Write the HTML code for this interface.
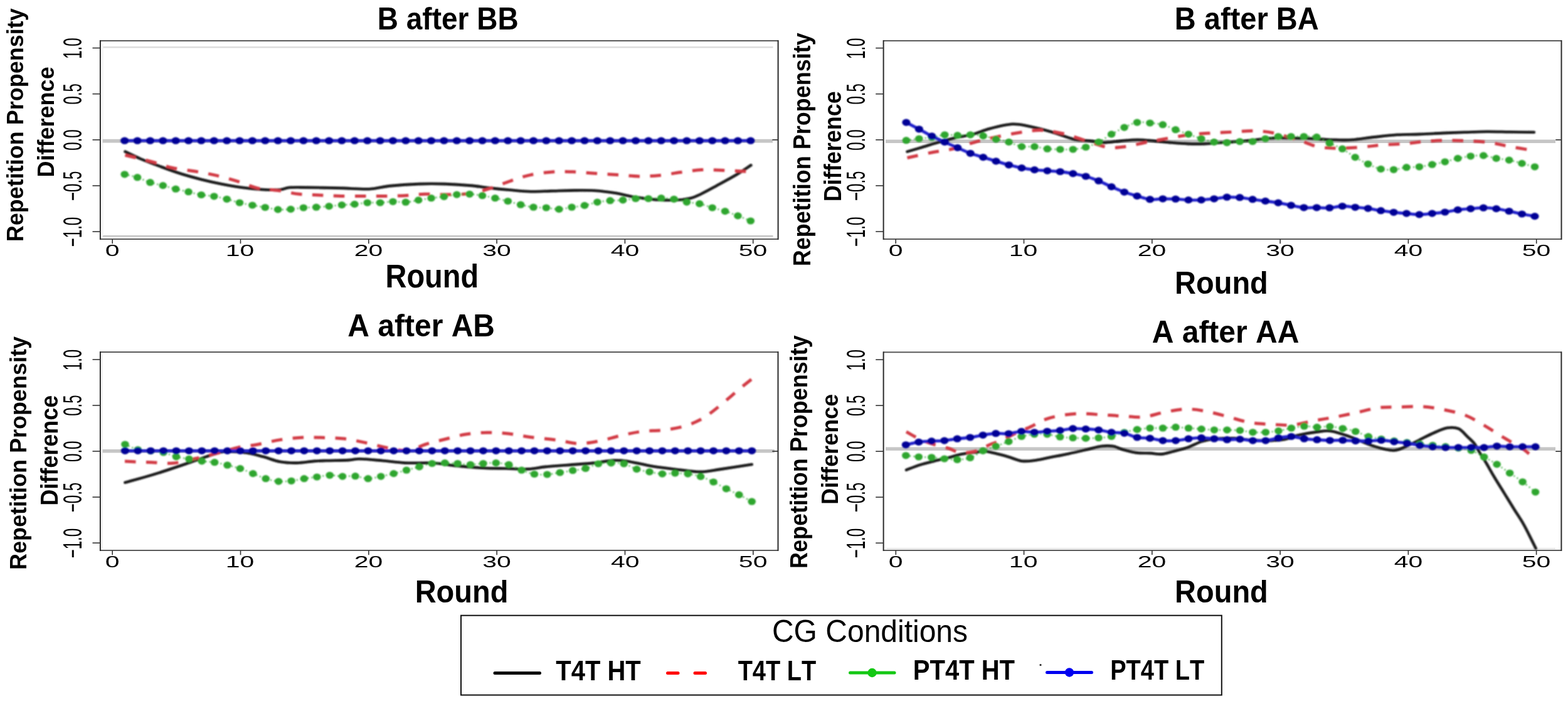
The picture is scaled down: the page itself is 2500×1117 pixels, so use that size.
<!DOCTYPE html>
<html><head><meta charset="utf-8"><title>Repetition Propensity Difference by Round</title>
<style>html,body{margin:0;padding:0;background:#fff;}svg{display:block;}</style>
</head><body>
<svg width="2500" height="1117" viewBox="0 0 2500 1117">
<rect width="2500" height="1117" fill="#fff"/>
<defs><filter id="soft" x="-2%" y="-2%" width="104%" height="104%"><feGaussianBlur stdDeviation="0.85"/></filter></defs>
<g id="TL">
<line x1="163.5" y1="75.2" x2="1232.5" y2="75.2" stroke="#dcdcdc" stroke-width="2.4"/>
<line x1="163.5" y1="376.3" x2="1232.5" y2="376.3" stroke="#c4c4c4" stroke-width="2.4"/>
<line x1="163.8" y1="70" x2="163.8" y2="376" stroke="#f0f0f0" stroke-width="1.5"/>
<line x1="163.5" y1="224.6" x2="1232" y2="224.6" stroke="#c6c6c6" stroke-width="5.6"/>
<g filter="url(#soft)">
<path d="M199.5,241.6C203.75,243.58 215.47,249.48 225,253.5C234.53,257.52 246.03,261.78 256.7,265.7C267.37,269.62 278.28,273.63 289,277C299.72,280.37 310.27,283.2 321,285.9C331.73,288.6 342.63,291.05 353.4,293.2C364.17,295.35 374.85,297.33 385.6,298.8C396.35,300.27 407.68,301.43 417.9,302C428.12,302.57 439.88,302.7 446.9,302.2C453.92,301.7 454.48,299.6 460,299C465.52,298.4 466.67,298.5 480,298.6C493.33,298.7 521.95,299.17 540,299.6C558.05,300.03 574.87,301.73 588.3,301.2C601.73,300.67 607.17,297.75 620.6,296.4C634.03,295.05 654.13,293.65 668.9,293.1C683.67,292.55 695.77,292.68 709.2,293.1C722.63,293.52 737.42,294.52 749.5,295.6C761.58,296.68 770.95,298.4 781.7,299.6C792.45,300.8 803.25,301.87 814,302.8C824.75,303.73 835.47,304.93 846.2,305.2C856.93,305.47 866.75,304.7 878.4,304.4C890.05,304.1 904.45,303.5 916.1,303.4C927.75,303.3 937.55,303.1 948.3,303.8C959.05,304.5 969.85,305.88 980.6,307.6C991.35,309.32 1002.07,312.35 1012.8,314.1C1023.53,315.85 1034.27,317.3 1045,318.1C1055.73,318.9 1067.8,319.3 1077.2,318.9C1086.6,318.5 1094.68,317.32 1101.4,315.7C1108.12,314.08 1110.78,312.42 1117.5,309.2C1124.22,305.98 1132.3,301.5 1141.7,296.4C1151.1,291.3 1164.63,284.12 1173.9,278.6C1183.17,273.08 1193.4,265.85 1197.3,263.3" fill="none" stroke="#1a1a1a" stroke-width="4.6" stroke-linejoin="round" stroke-linecap="round"/>
<path d="M199.5,247.2C206.58,248.95 229.42,254.33 242,257.7C254.58,261.07 263.5,264.85 275,267.4C286.5,269.95 299.5,271 311,273C322.5,275 333,276.85 344,279.4C355,281.95 366,284.93 377,288.3C388,291.67 399,297.05 410,299.6C421,302.15 431.83,301.98 443,303.6C454.17,305.22 465.83,308.08 477,309.3C488.17,310.52 498.83,310.37 510,310.9C521.17,311.43 532.33,312.23 544,312.5C555.67,312.77 568.58,312.5 580,312.5C591.42,312.5 601.7,312.63 612.5,312.5C623.3,312.37 634.05,312.23 644.8,311.7C655.55,311.17 666.3,309.58 677,309.3C687.7,309.02 696.92,310.13 709,310C721.08,309.87 737.92,309.97 749.5,308.5C761.08,307.03 767.75,304.57 778.5,301.2C789.25,297.83 802.72,292.07 814,288.3C825.28,284.53 834.65,281.02 846.2,278.6C857.75,276.18 872.02,274.6 883.3,273.8C894.58,273 903.07,273.4 913.9,273.8C924.73,274.2 936.65,275.4 948.3,276.2C959.95,277 971.98,277.8 983.8,278.6C995.62,279.4 1007.92,280.87 1019.2,281C1030.48,281.13 1040.48,280.47 1051.5,279.4C1062.52,278.33 1074.03,276.07 1085.3,274.6C1096.57,273.13 1107.55,271.13 1119.1,270.6C1130.65,270.07 1141.7,270.87 1154.6,271.4C1167.5,271.93 1189.52,273.4 1196.5,273.8" fill="none" stroke="#d23a44" stroke-width="5" stroke-dasharray="17.5 16.5" stroke-linejoin="round"/>
<path d="M198.7,277.8C202.09,278.62 212.28,280.55 219.07,282.7C225.86,284.85 232.65,288.55 239.44,290.7C246.23,292.85 253.02,293.85 259.81,295.6C266.6,297.35 273.39,299.52 280.18,301.2C286.97,302.88 293.76,304.15 300.55,305.7C307.34,307.25 314.13,309.32 320.92,310.5C327.71,311.68 334.5,311.67 341.29,312.8C348.08,313.93 354.87,315.6 361.66,317.3C368.44,319 375.23,321.38 382.02,323C388.81,324.62 395.6,325.75 402.39,327C409.18,328.25 415.97,329.35 422.76,330.5C429.55,331.65 436.34,333.42 443.13,333.9C449.92,334.38 456.71,333.88 463.5,333.4C470.29,332.92 477.08,331.53 483.87,331C490.66,330.47 497.45,330.6 504.24,330.2C511.03,329.8 517.82,329.2 524.61,328.6C531.4,328 538.19,327.13 544.98,326.6C551.77,326.07 558.56,326 565.35,325.4C572.14,324.8 578.93,323.4 585.72,323C592.51,322.6 599.3,323.28 606.09,323C612.88,322.72 619.67,321.43 626.46,321.3C633.25,321.17 640.04,322.6 646.83,322.2C653.62,321.8 660.41,319.98 667.2,318.9C673.99,317.82 680.78,316.63 687.57,315.7C694.36,314.77 701.14,314.23 707.93,313.3C714.72,312.37 721.51,310.77 728.3,310.1C735.09,309.43 741.88,309.03 748.67,309.3C755.46,309.57 762.25,310.63 769.04,311.7C775.83,312.77 782.62,314.23 789.41,315.7C796.2,317.17 802.99,318.75 809.78,320.5C816.57,322.25 823.36,324.58 830.15,326.2C836.94,327.82 843.73,329.4 850.52,330.2C857.31,331 864.1,330.47 870.89,331C877.68,331.53 884.47,333.53 891.26,333.4C898.05,333.27 904.84,331.2 911.63,330.2C918.42,329.2 925.21,328.75 932,327.4C938.79,326.05 945.58,323.38 952.37,322.1C959.16,320.82 965.95,320.23 972.74,319.7C979.53,319.17 986.32,319.43 993.11,318.9C999.9,318.37 1006.69,316.9 1013.48,316.5C1020.27,316.1 1027.06,316.63 1033.84,316.5C1040.63,316.37 1047.42,315.57 1054.21,315.7C1061,315.83 1067.79,316.23 1074.58,317.3C1081.37,318.37 1088.16,320.88 1094.95,322.1C1101.74,323.32 1108.53,323.12 1115.32,324.6C1122.11,326.08 1128.9,329 1135.69,331C1142.48,333 1149.27,334.45 1156.06,336.6C1162.85,338.75 1169.64,341.33 1176.43,343.9C1183.22,346.47 1193.41,350.65 1196.8,352" fill="none" stroke="#2ea62f" stroke-width="2.6" stroke-dasharray="2 4" opacity="0.8"/>
<g fill="#2ea62f"><ellipse cx="198.7" cy="277.8" rx="6.3" ry="5.6"/><ellipse cx="219.07" cy="282.7" rx="6.3" ry="5.6"/><ellipse cx="239.44" cy="290.7" rx="6.3" ry="5.6"/><ellipse cx="259.81" cy="295.6" rx="6.3" ry="5.6"/><ellipse cx="280.18" cy="301.2" rx="6.3" ry="5.6"/><ellipse cx="300.55" cy="305.7" rx="6.3" ry="5.6"/><ellipse cx="320.92" cy="310.5" rx="6.3" ry="5.6"/><ellipse cx="341.29" cy="312.8" rx="6.3" ry="5.6"/><ellipse cx="361.66" cy="317.3" rx="6.3" ry="5.6"/><ellipse cx="382.02" cy="323" rx="6.3" ry="5.6"/><ellipse cx="402.39" cy="327" rx="6.3" ry="5.6"/><ellipse cx="422.76" cy="330.5" rx="6.3" ry="5.6"/><ellipse cx="443.13" cy="333.9" rx="6.3" ry="5.6"/><ellipse cx="463.5" cy="333.4" rx="6.3" ry="5.6"/><ellipse cx="483.87" cy="331" rx="6.3" ry="5.6"/><ellipse cx="504.24" cy="330.2" rx="6.3" ry="5.6"/><ellipse cx="524.61" cy="328.6" rx="6.3" ry="5.6"/><ellipse cx="544.98" cy="326.6" rx="6.3" ry="5.6"/><ellipse cx="565.35" cy="325.4" rx="6.3" ry="5.6"/><ellipse cx="585.72" cy="323" rx="6.3" ry="5.6"/><ellipse cx="606.09" cy="323" rx="6.3" ry="5.6"/><ellipse cx="626.46" cy="321.3" rx="6.3" ry="5.6"/><ellipse cx="646.83" cy="322.2" rx="6.3" ry="5.6"/><ellipse cx="667.2" cy="318.9" rx="6.3" ry="5.6"/><ellipse cx="687.57" cy="315.7" rx="6.3" ry="5.6"/><ellipse cx="707.93" cy="313.3" rx="6.3" ry="5.6"/><ellipse cx="728.3" cy="310.1" rx="6.3" ry="5.6"/><ellipse cx="748.67" cy="309.3" rx="6.3" ry="5.6"/><ellipse cx="769.04" cy="311.7" rx="6.3" ry="5.6"/><ellipse cx="789.41" cy="315.7" rx="6.3" ry="5.6"/><ellipse cx="809.78" cy="320.5" rx="6.3" ry="5.6"/><ellipse cx="830.15" cy="326.2" rx="6.3" ry="5.6"/><ellipse cx="850.52" cy="330.2" rx="6.3" ry="5.6"/><ellipse cx="870.89" cy="331" rx="6.3" ry="5.6"/><ellipse cx="891.26" cy="333.4" rx="6.3" ry="5.6"/><ellipse cx="911.63" cy="330.2" rx="6.3" ry="5.6"/><ellipse cx="932" cy="327.4" rx="6.3" ry="5.6"/><ellipse cx="952.37" cy="322.1" rx="6.3" ry="5.6"/><ellipse cx="972.74" cy="319.7" rx="6.3" ry="5.6"/><ellipse cx="993.11" cy="318.9" rx="6.3" ry="5.6"/><ellipse cx="1013.48" cy="316.5" rx="6.3" ry="5.6"/><ellipse cx="1033.84" cy="316.5" rx="6.3" ry="5.6"/><ellipse cx="1054.21" cy="315.7" rx="6.3" ry="5.6"/><ellipse cx="1074.58" cy="317.3" rx="6.3" ry="5.6"/><ellipse cx="1094.95" cy="322.1" rx="6.3" ry="5.6"/><ellipse cx="1115.32" cy="324.6" rx="6.3" ry="5.6"/><ellipse cx="1135.69" cy="331" rx="6.3" ry="5.6"/><ellipse cx="1156.06" cy="336.6" rx="6.3" ry="5.6"/><ellipse cx="1176.43" cy="343.9" rx="6.3" ry="5.6"/><ellipse cx="1196.8" cy="352" rx="6.3" ry="5.6"/></g>
<path d="M198.7,224.2C202.09,224.2 212.28,224.2 219.07,224.2C225.86,224.2 232.65,224.2 239.44,224.2C246.23,224.2 253.02,224.2 259.81,224.2C266.6,224.2 273.39,224.2 280.18,224.2C286.97,224.2 293.76,224.2 300.55,224.2C307.34,224.2 314.13,224.2 320.92,224.2C327.71,224.2 334.5,224.2 341.29,224.2C348.08,224.2 354.87,224.2 361.66,224.2C368.44,224.2 375.23,224.2 382.02,224.2C388.81,224.2 395.6,224.2 402.39,224.2C409.18,224.2 415.97,224.2 422.76,224.2C429.55,224.2 436.34,224.2 443.13,224.2C449.92,224.2 456.71,224.2 463.5,224.2C470.29,224.2 477.08,224.2 483.87,224.2C490.66,224.2 497.45,224.2 504.24,224.2C511.03,224.2 517.82,224.2 524.61,224.2C531.4,224.2 538.19,224.2 544.98,224.2C551.77,224.2 558.56,224.2 565.35,224.2C572.14,224.2 578.93,224.2 585.72,224.2C592.51,224.2 599.3,224.2 606.09,224.2C612.88,224.2 619.67,224.2 626.46,224.2C633.25,224.2 640.04,224.2 646.83,224.2C653.62,224.2 660.41,224.2 667.2,224.2C673.99,224.2 680.78,224.2 687.57,224.2C694.36,224.2 701.14,224.2 707.93,224.2C714.72,224.2 721.51,224.2 728.3,224.2C735.09,224.2 741.88,224.2 748.67,224.2C755.46,224.2 762.25,224.2 769.04,224.2C775.83,224.2 782.62,224.2 789.41,224.2C796.2,224.2 802.99,224.2 809.78,224.2C816.57,224.2 823.36,224.2 830.15,224.2C836.94,224.2 843.73,224.2 850.52,224.2C857.31,224.2 864.1,224.2 870.89,224.2C877.68,224.2 884.47,224.2 891.26,224.2C898.05,224.2 904.84,224.2 911.63,224.2C918.42,224.2 925.21,224.2 932,224.2C938.79,224.2 945.58,224.2 952.37,224.2C959.16,224.2 965.95,224.2 972.74,224.2C979.53,224.2 986.32,224.2 993.11,224.2C999.9,224.2 1006.69,224.2 1013.48,224.2C1020.27,224.2 1027.06,224.2 1033.84,224.2C1040.63,224.2 1047.42,224.2 1054.21,224.2C1061,224.2 1067.79,224.2 1074.58,224.2C1081.37,224.2 1088.16,224.2 1094.95,224.2C1101.74,224.2 1108.53,224.2 1115.32,224.2C1122.11,224.2 1128.9,224.2 1135.69,224.2C1142.48,224.2 1149.27,224.2 1156.06,224.2C1162.85,224.2 1169.64,224.2 1176.43,224.2C1183.22,224.2 1193.41,224.2 1196.8,224.2" fill="none" stroke="#2020cc" stroke-width="4.8"/>
<g fill="#000096"><ellipse cx="198.7" cy="224.2" rx="6.6" ry="5.6"/><ellipse cx="219.07" cy="224.2" rx="6.6" ry="5.6"/><ellipse cx="239.44" cy="224.2" rx="6.6" ry="5.6"/><ellipse cx="259.81" cy="224.2" rx="6.6" ry="5.6"/><ellipse cx="280.18" cy="224.2" rx="6.6" ry="5.6"/><ellipse cx="300.55" cy="224.2" rx="6.6" ry="5.6"/><ellipse cx="320.92" cy="224.2" rx="6.6" ry="5.6"/><ellipse cx="341.29" cy="224.2" rx="6.6" ry="5.6"/><ellipse cx="361.66" cy="224.2" rx="6.6" ry="5.6"/><ellipse cx="382.02" cy="224.2" rx="6.6" ry="5.6"/><ellipse cx="402.39" cy="224.2" rx="6.6" ry="5.6"/><ellipse cx="422.76" cy="224.2" rx="6.6" ry="5.6"/><ellipse cx="443.13" cy="224.2" rx="6.6" ry="5.6"/><ellipse cx="463.5" cy="224.2" rx="6.6" ry="5.6"/><ellipse cx="483.87" cy="224.2" rx="6.6" ry="5.6"/><ellipse cx="504.24" cy="224.2" rx="6.6" ry="5.6"/><ellipse cx="524.61" cy="224.2" rx="6.6" ry="5.6"/><ellipse cx="544.98" cy="224.2" rx="6.6" ry="5.6"/><ellipse cx="565.35" cy="224.2" rx="6.6" ry="5.6"/><ellipse cx="585.72" cy="224.2" rx="6.6" ry="5.6"/><ellipse cx="606.09" cy="224.2" rx="6.6" ry="5.6"/><ellipse cx="626.46" cy="224.2" rx="6.6" ry="5.6"/><ellipse cx="646.83" cy="224.2" rx="6.6" ry="5.6"/><ellipse cx="667.2" cy="224.2" rx="6.6" ry="5.6"/><ellipse cx="687.57" cy="224.2" rx="6.6" ry="5.6"/><ellipse cx="707.93" cy="224.2" rx="6.6" ry="5.6"/><ellipse cx="728.3" cy="224.2" rx="6.6" ry="5.6"/><ellipse cx="748.67" cy="224.2" rx="6.6" ry="5.6"/><ellipse cx="769.04" cy="224.2" rx="6.6" ry="5.6"/><ellipse cx="789.41" cy="224.2" rx="6.6" ry="5.6"/><ellipse cx="809.78" cy="224.2" rx="6.6" ry="5.6"/><ellipse cx="830.15" cy="224.2" rx="6.6" ry="5.6"/><ellipse cx="850.52" cy="224.2" rx="6.6" ry="5.6"/><ellipse cx="870.89" cy="224.2" rx="6.6" ry="5.6"/><ellipse cx="891.26" cy="224.2" rx="6.6" ry="5.6"/><ellipse cx="911.63" cy="224.2" rx="6.6" ry="5.6"/><ellipse cx="932" cy="224.2" rx="6.6" ry="5.6"/><ellipse cx="952.37" cy="224.2" rx="6.6" ry="5.6"/><ellipse cx="972.74" cy="224.2" rx="6.6" ry="5.6"/><ellipse cx="993.11" cy="224.2" rx="6.6" ry="5.6"/><ellipse cx="1013.48" cy="224.2" rx="6.6" ry="5.6"/><ellipse cx="1033.84" cy="224.2" rx="6.6" ry="5.6"/><ellipse cx="1054.21" cy="224.2" rx="6.6" ry="5.6"/><ellipse cx="1074.58" cy="224.2" rx="6.6" ry="5.6"/><ellipse cx="1094.95" cy="224.2" rx="6.6" ry="5.6"/><ellipse cx="1115.32" cy="224.2" rx="6.6" ry="5.6"/><ellipse cx="1135.69" cy="224.2" rx="6.6" ry="5.6"/><ellipse cx="1156.06" cy="224.2" rx="6.6" ry="5.6"/><ellipse cx="1176.43" cy="224.2" rx="6.6" ry="5.6"/><ellipse cx="1196.8" cy="224.2" rx="6.6" ry="5.6"/></g>
</g>
<path d="M159.9,64.9H1240.6M159.9,381.0H1240.6" stroke="#5a5a5a" stroke-width="2" fill="none"/>
<path d="M159.9,63.9V382M1240.6,63.9V382" stroke="#2a2a2a" stroke-width="2" fill="none"/>
<line x1="147.5" y1="76.5" x2="159.9" y2="76.5" stroke="#333" stroke-width="1.6"/>
<line x1="147.5" y1="149.65" x2="159.9" y2="149.65" stroke="#333" stroke-width="1.6"/>
<line x1="147.5" y1="222.8" x2="159.9" y2="222.8" stroke="#333" stroke-width="1.6"/>
<line x1="147.5" y1="295.95" x2="159.9" y2="295.95" stroke="#333" stroke-width="1.6"/>
<line x1="147.5" y1="369.1" x2="159.9" y2="369.1" stroke="#333" stroke-width="1.6"/>
<line x1="1231.4" y1="222.8" x2="1240.6" y2="222.8" stroke="#333" stroke-width="1.7"/>
<line x1="179.2" y1="381.0" x2="179.2" y2="388.2" stroke="#333" stroke-width="1.6"/>
<line x1="383.5" y1="381.0" x2="383.5" y2="388.2" stroke="#333" stroke-width="1.6"/>
<line x1="587.8" y1="381.0" x2="587.8" y2="388.2" stroke="#333" stroke-width="1.6"/>
<line x1="792.1" y1="381.0" x2="792.1" y2="388.2" stroke="#333" stroke-width="1.6"/>
<line x1="996.4" y1="381.0" x2="996.4" y2="388.2" stroke="#333" stroke-width="1.6"/>
<line x1="1200.7" y1="381.0" x2="1200.7" y2="388.2" stroke="#333" stroke-width="1.6"/>
</g>
<g id="TR">
<line x1="1412" y1="225.2" x2="2480" y2="225.2" stroke="#c6c6c6" stroke-width="5.6"/>
<g filter="url(#soft)">
<path d="M1446.5,241.6C1450.53,240.42 1462.2,237.03 1470.7,234.5C1479.2,231.97 1488.55,228.95 1497.5,226.4C1506.45,223.85 1515.43,221.28 1524.4,219.2C1533.37,217.12 1542.35,216.28 1551.3,213.9C1560.25,211.52 1567.65,207.58 1578.1,204.9C1588.55,202.22 1603.55,198.4 1614,197.8C1624.45,197.2 1630.37,199.22 1640.8,201.3C1651.23,203.38 1664.67,206.87 1676.6,210.3C1688.53,213.73 1701.95,219.52 1712.4,221.9C1722.85,224.28 1731.37,223.7 1739.3,224.6C1747.23,225.5 1752.07,227.3 1760,227.3C1767.93,227.3 1777.95,225.35 1786.9,224.6C1795.85,223.85 1804.75,222.8 1813.7,222.8C1822.65,222.8 1831.65,223.85 1840.6,224.6C1849.55,225.35 1858.45,226.55 1867.4,227.3C1876.35,228.05 1885.33,228.8 1894.3,229.1C1903.27,229.4 1912.25,229.4 1921.2,229.1C1930.15,228.8 1939.05,227.9 1948,227.3C1956.95,226.7 1965.93,226.25 1974.9,225.5C1983.87,224.75 1992.85,223.7 2001.8,222.8C2010.75,221.9 2019.65,220.55 2028.6,220.1C2037.55,219.65 2046.55,220.03 2055.5,220.1C2064.45,220.17 2073.35,220.2 2082.3,220.5C2091.25,220.8 2101.25,221.52 2109.2,221.9C2117.15,222.28 2122.23,222.65 2130,222.8C2137.77,222.95 2145.53,223.53 2155.8,222.8C2166.07,222.07 2179.65,219.73 2191.6,218.4C2203.55,217.07 2215.55,215.55 2227.5,214.8C2239.45,214.05 2251.37,214.35 2263.3,213.9C2275.23,213.45 2287.17,212.62 2299.1,212.1C2311.03,211.58 2322.97,211.18 2334.9,210.8C2346.83,210.42 2358.77,209.88 2370.7,209.8C2382.63,209.72 2393.97,210.13 2406.5,210.3C2419.03,210.47 2439.33,210.72 2445.9,210.8" fill="none" stroke="#1a1a1a" stroke-width="4.6" stroke-linejoin="round" stroke-linecap="round"/>
<path d="M1446.5,251.5C1453.42,250 1475.75,244.92 1488,242.5C1500.25,240.08 1509.42,239.53 1520,237C1530.58,234.47 1541.58,230.12 1551.5,227.3C1561.42,224.48 1567.17,222.78 1579.5,220.1C1591.83,217.42 1612.15,213.28 1625.5,211.2C1638.85,209.12 1647.95,207.3 1659.6,207.6C1671.25,207.9 1683.6,210.32 1695.4,213C1707.2,215.68 1718.77,220.12 1730.4,223.7C1742.03,227.28 1754.42,232.85 1765.2,234.5C1775.98,236.15 1784.47,234.95 1795.1,233.6C1805.73,232.25 1817.58,228.65 1829,226.4C1840.42,224.15 1852.27,222.03 1863.6,220.1C1874.93,218.17 1885.95,216.13 1897,214.8C1908.05,213.47 1918.6,212.85 1929.9,212.1C1941.2,211.35 1953.3,210.9 1964.8,210.3C1976.3,209.7 1987.83,208.2 1998.9,208.5C2009.97,208.8 2019.1,209.57 2031.2,212.1C2043.3,214.63 2059.87,220.12 2071.5,223.7C2083.13,227.28 2091.08,231.5 2101,233.6C2110.92,235.7 2119.35,236.15 2131,236.3C2142.65,236.45 2158.77,235.4 2170.9,234.5C2183.03,233.6 2192.43,231.8 2203.8,230.9C2215.17,230 2227.85,230 2239.1,229.1C2250.35,228.2 2260.27,226.4 2271.3,225.5C2282.33,224.6 2293.85,223.85 2305.3,223.7C2316.75,223.55 2328.27,224 2340,224.6C2351.73,225.2 2364.47,225.8 2375.7,227.3C2386.93,228.8 2395.7,231.48 2407.4,233.6C2419.1,235.72 2439.48,238.93 2445.9,240" fill="none" stroke="#d23a44" stroke-width="5" stroke-dasharray="17.5 16.5" stroke-linejoin="round"/>
<path d="M1444.9,223.7C1448.31,223.25 1458.53,221.78 1465.35,221C1472.17,220.22 1478.99,220.03 1485.8,219C1492.62,217.97 1499.44,215.35 1506.25,214.8C1513.07,214.25 1519.89,215.7 1526.7,215.7C1533.52,215.7 1540.34,214.65 1547.16,214.8C1553.97,214.95 1560.79,215.42 1567.61,216.6C1574.42,217.78 1581.24,220.27 1588.06,221.9C1594.87,223.53 1601.69,224.45 1608.51,226.4C1615.33,228.35 1622.14,232.4 1628.96,233.6C1635.78,234.8 1642.59,233 1649.41,233.6C1656.23,234.2 1663.04,236.47 1669.86,237.2C1676.68,237.93 1683.5,237.87 1690.31,238C1697.13,238.13 1703.95,238.58 1710.76,238C1717.58,237.42 1724.4,236.43 1731.21,234.5C1738.03,232.57 1744.85,229.83 1751.67,226.4C1758.48,222.97 1765.3,217.78 1772.12,213.9C1778.93,210.02 1785.75,206.23 1792.57,203.1C1799.38,199.97 1806.2,196.28 1813.02,195.1C1819.84,193.92 1826.65,195.4 1833.47,196C1840.29,196.6 1847.1,196.92 1853.92,198.7C1860.74,200.48 1867.55,204.17 1874.37,206.7C1881.19,209.23 1888.01,211.52 1894.82,213.9C1901.64,216.28 1908.46,218.92 1915.27,221C1922.09,223.08 1928.91,225.35 1935.72,226.4C1942.54,227.45 1949.36,227.45 1956.18,227.3C1962.99,227.15 1969.81,225.8 1976.63,225.5C1983.44,225.2 1990.26,226.25 1997.08,225.5C2003.89,224.75 2010.71,222.33 2017.53,221C2024.35,219.67 2031.16,218.08 2037.98,217.5C2044.8,216.92 2051.61,217.5 2058.43,217.5C2065.25,217.5 2072.06,217.35 2078.88,217.5C2085.7,217.65 2092.52,216.62 2099.33,218.4C2106.15,220.18 2112.97,225.07 2119.78,228.2C2126.6,231.33 2133.42,233.47 2140.23,237.2C2147.05,240.93 2153.87,246.58 2160.69,250.6C2167.5,254.62 2174.32,258.17 2181.14,261.3C2187.95,264.43 2194.77,267.9 2201.59,269.4C2208.4,270.9 2215.22,270.75 2222.04,270.3C2228.86,269.85 2235.67,267.45 2242.49,266.7C2249.31,265.95 2256.12,266.55 2262.94,265.8C2269.76,265.05 2276.57,263.53 2283.39,262.2C2290.21,260.87 2297.03,259.43 2303.84,257.8C2310.66,256.17 2317.48,253.9 2324.29,252.4C2331.11,250.9 2337.93,249.55 2344.74,248.8C2351.56,248.05 2358.38,247.3 2365.2,247.9C2372.01,248.5 2378.83,251.2 2385.65,252.4C2392.46,253.6 2399.28,253.77 2406.1,255.1C2412.91,256.43 2419.73,258.62 2426.55,260.4C2433.37,262.18 2443.59,264.9 2447,265.8" fill="none" stroke="#2ea62f" stroke-width="2.6" stroke-dasharray="2 4" opacity="0.8"/>
<g fill="#2ea62f"><ellipse cx="1444.9" cy="223.7" rx="6.3" ry="5.6"/><ellipse cx="1465.35" cy="221" rx="6.3" ry="5.6"/><ellipse cx="1485.8" cy="219" rx="6.3" ry="5.6"/><ellipse cx="1506.25" cy="214.8" rx="6.3" ry="5.6"/><ellipse cx="1526.7" cy="215.7" rx="6.3" ry="5.6"/><ellipse cx="1547.16" cy="214.8" rx="6.3" ry="5.6"/><ellipse cx="1567.61" cy="216.6" rx="6.3" ry="5.6"/><ellipse cx="1588.06" cy="221.9" rx="6.3" ry="5.6"/><ellipse cx="1608.51" cy="226.4" rx="6.3" ry="5.6"/><ellipse cx="1628.96" cy="233.6" rx="6.3" ry="5.6"/><ellipse cx="1649.41" cy="233.6" rx="6.3" ry="5.6"/><ellipse cx="1669.86" cy="237.2" rx="6.3" ry="5.6"/><ellipse cx="1690.31" cy="238" rx="6.3" ry="5.6"/><ellipse cx="1710.76" cy="238" rx="6.3" ry="5.6"/><ellipse cx="1731.21" cy="234.5" rx="6.3" ry="5.6"/><ellipse cx="1751.67" cy="226.4" rx="6.3" ry="5.6"/><ellipse cx="1772.12" cy="213.9" rx="6.3" ry="5.6"/><ellipse cx="1792.57" cy="203.1" rx="6.3" ry="5.6"/><ellipse cx="1813.02" cy="195.1" rx="6.3" ry="5.6"/><ellipse cx="1833.47" cy="196" rx="6.3" ry="5.6"/><ellipse cx="1853.92" cy="198.7" rx="6.3" ry="5.6"/><ellipse cx="1874.37" cy="206.7" rx="6.3" ry="5.6"/><ellipse cx="1894.82" cy="213.9" rx="6.3" ry="5.6"/><ellipse cx="1915.27" cy="221" rx="6.3" ry="5.6"/><ellipse cx="1935.72" cy="226.4" rx="6.3" ry="5.6"/><ellipse cx="1956.18" cy="227.3" rx="6.3" ry="5.6"/><ellipse cx="1976.63" cy="225.5" rx="6.3" ry="5.6"/><ellipse cx="1997.08" cy="225.5" rx="6.3" ry="5.6"/><ellipse cx="2017.53" cy="221" rx="6.3" ry="5.6"/><ellipse cx="2037.98" cy="217.5" rx="6.3" ry="5.6"/><ellipse cx="2058.43" cy="217.5" rx="6.3" ry="5.6"/><ellipse cx="2078.88" cy="217.5" rx="6.3" ry="5.6"/><ellipse cx="2099.33" cy="218.4" rx="6.3" ry="5.6"/><ellipse cx="2119.78" cy="228.2" rx="6.3" ry="5.6"/><ellipse cx="2140.23" cy="237.2" rx="6.3" ry="5.6"/><ellipse cx="2160.69" cy="250.6" rx="6.3" ry="5.6"/><ellipse cx="2181.14" cy="261.3" rx="6.3" ry="5.6"/><ellipse cx="2201.59" cy="269.4" rx="6.3" ry="5.6"/><ellipse cx="2222.04" cy="270.3" rx="6.3" ry="5.6"/><ellipse cx="2242.49" cy="266.7" rx="6.3" ry="5.6"/><ellipse cx="2262.94" cy="265.8" rx="6.3" ry="5.6"/><ellipse cx="2283.39" cy="262.2" rx="6.3" ry="5.6"/><ellipse cx="2303.84" cy="257.8" rx="6.3" ry="5.6"/><ellipse cx="2324.29" cy="252.4" rx="6.3" ry="5.6"/><ellipse cx="2344.74" cy="248.8" rx="6.3" ry="5.6"/><ellipse cx="2365.2" cy="247.9" rx="6.3" ry="5.6"/><ellipse cx="2385.65" cy="252.4" rx="6.3" ry="5.6"/><ellipse cx="2406.1" cy="255.1" rx="6.3" ry="5.6"/><ellipse cx="2426.55" cy="260.4" rx="6.3" ry="5.6"/><ellipse cx="2447" cy="265.8" rx="6.3" ry="5.6"/></g>
<path d="M1444.9,195.1C1448.31,196.88 1458.53,202.17 1465.35,205.8C1472.17,209.43 1478.99,213.47 1485.8,216.9C1492.62,220.33 1499.44,223.32 1506.25,226.4C1513.07,229.48 1519.89,232.42 1526.7,235.4C1533.52,238.38 1540.34,241.77 1547.16,244.3C1553.97,246.83 1560.79,248.5 1567.61,250.6C1574.42,252.7 1581.24,254.87 1588.06,256.9C1594.87,258.93 1601.69,261.02 1608.51,262.8C1615.33,264.58 1622.14,266.3 1628.96,267.6C1635.78,268.9 1642.59,269.85 1649.41,270.6C1656.23,271.35 1663.04,271.62 1669.86,272.1C1676.68,272.58 1683.5,272.75 1690.31,273.5C1697.13,274.25 1703.95,275.35 1710.76,276.6C1717.58,277.85 1724.4,279.07 1731.21,281C1738.03,282.93 1744.85,285.43 1751.67,288.2C1758.48,290.97 1765.3,294.62 1772.12,297.6C1778.93,300.58 1785.75,303.63 1792.57,306.1C1799.38,308.57 1806.2,310.47 1813.02,312.4C1819.84,314.33 1826.65,316.97 1833.47,317.7C1840.29,318.43 1847.1,316.88 1853.92,316.8C1860.74,316.72 1867.55,316.9 1874.37,317.2C1881.19,317.5 1888.01,318.37 1894.82,318.6C1901.64,318.83 1908.46,318.9 1915.27,318.6C1922.09,318.3 1928.91,317.53 1935.72,316.8C1942.54,316.07 1949.36,314.55 1956.18,314.2C1962.99,313.85 1969.81,314.12 1976.63,314.7C1983.44,315.28 1990.26,316.75 1997.08,317.7C2003.89,318.65 2010.71,319.5 2017.53,320.4C2024.35,321.3 2031.16,321.97 2037.98,323.1C2044.8,324.23 2051.61,325.92 2058.43,327.2C2065.25,328.48 2072.06,330.2 2078.88,330.8C2085.7,331.4 2092.52,330.73 2099.33,330.8C2106.15,330.87 2112.97,331.58 2119.78,331.2C2126.6,330.82 2133.42,328.65 2140.23,328.5C2147.05,328.35 2153.87,329.7 2160.69,330.3C2167.5,330.9 2174.32,331.2 2181.14,332.1C2187.95,333 2194.77,334.67 2201.59,335.7C2208.4,336.73 2215.22,337.57 2222.04,338.3C2228.86,339.03 2235.67,339.5 2242.49,340.1C2249.31,340.7 2256.12,341.9 2262.94,341.9C2269.76,341.9 2276.57,340.75 2283.39,340.1C2290.21,339.45 2297.03,338.95 2303.84,338C2310.66,337.05 2317.48,335.3 2324.29,334.4C2331.11,333.5 2337.93,333.13 2344.74,332.6C2351.56,332.07 2358.38,331.2 2365.2,331.2C2372.01,331.2 2378.83,331.72 2385.65,332.6C2392.46,333.48 2399.28,335.1 2406.1,336.5C2412.91,337.9 2419.73,339.65 2426.55,341C2433.37,342.35 2443.59,344 2447,344.6" fill="none" stroke="#2020cc" stroke-width="4.8"/>
<g fill="#000096"><ellipse cx="1444.9" cy="195.1" rx="6.6" ry="5.6"/><ellipse cx="1465.35" cy="205.8" rx="6.6" ry="5.6"/><ellipse cx="1485.8" cy="216.9" rx="6.6" ry="5.6"/><ellipse cx="1506.25" cy="226.4" rx="6.6" ry="5.6"/><ellipse cx="1526.7" cy="235.4" rx="6.6" ry="5.6"/><ellipse cx="1547.16" cy="244.3" rx="6.6" ry="5.6"/><ellipse cx="1567.61" cy="250.6" rx="6.6" ry="5.6"/><ellipse cx="1588.06" cy="256.9" rx="6.6" ry="5.6"/><ellipse cx="1608.51" cy="262.8" rx="6.6" ry="5.6"/><ellipse cx="1628.96" cy="267.6" rx="6.6" ry="5.6"/><ellipse cx="1649.41" cy="270.6" rx="6.6" ry="5.6"/><ellipse cx="1669.86" cy="272.1" rx="6.6" ry="5.6"/><ellipse cx="1690.31" cy="273.5" rx="6.6" ry="5.6"/><ellipse cx="1710.76" cy="276.6" rx="6.6" ry="5.6"/><ellipse cx="1731.21" cy="281" rx="6.6" ry="5.6"/><ellipse cx="1751.67" cy="288.2" rx="6.6" ry="5.6"/><ellipse cx="1772.12" cy="297.6" rx="6.6" ry="5.6"/><ellipse cx="1792.57" cy="306.1" rx="6.6" ry="5.6"/><ellipse cx="1813.02" cy="312.4" rx="6.6" ry="5.6"/><ellipse cx="1833.47" cy="317.7" rx="6.6" ry="5.6"/><ellipse cx="1853.92" cy="316.8" rx="6.6" ry="5.6"/><ellipse cx="1874.37" cy="317.2" rx="6.6" ry="5.6"/><ellipse cx="1894.82" cy="318.6" rx="6.6" ry="5.6"/><ellipse cx="1915.27" cy="318.6" rx="6.6" ry="5.6"/><ellipse cx="1935.72" cy="316.8" rx="6.6" ry="5.6"/><ellipse cx="1956.18" cy="314.2" rx="6.6" ry="5.6"/><ellipse cx="1976.63" cy="314.7" rx="6.6" ry="5.6"/><ellipse cx="1997.08" cy="317.7" rx="6.6" ry="5.6"/><ellipse cx="2017.53" cy="320.4" rx="6.6" ry="5.6"/><ellipse cx="2037.98" cy="323.1" rx="6.6" ry="5.6"/><ellipse cx="2058.43" cy="327.2" rx="6.6" ry="5.6"/><ellipse cx="2078.88" cy="330.8" rx="6.6" ry="5.6"/><ellipse cx="2099.33" cy="330.8" rx="6.6" ry="5.6"/><ellipse cx="2119.78" cy="331.2" rx="6.6" ry="5.6"/><ellipse cx="2140.23" cy="328.5" rx="6.6" ry="5.6"/><ellipse cx="2160.69" cy="330.3" rx="6.6" ry="5.6"/><ellipse cx="2181.14" cy="332.1" rx="6.6" ry="5.6"/><ellipse cx="2201.59" cy="335.7" rx="6.6" ry="5.6"/><ellipse cx="2222.04" cy="338.3" rx="6.6" ry="5.6"/><ellipse cx="2242.49" cy="340.1" rx="6.6" ry="5.6"/><ellipse cx="2262.94" cy="341.9" rx="6.6" ry="5.6"/><ellipse cx="2283.39" cy="340.1" rx="6.6" ry="5.6"/><ellipse cx="2303.84" cy="338" rx="6.6" ry="5.6"/><ellipse cx="2324.29" cy="334.4" rx="6.6" ry="5.6"/><ellipse cx="2344.74" cy="332.6" rx="6.6" ry="5.6"/><ellipse cx="2365.2" cy="331.2" rx="6.6" ry="5.6"/><ellipse cx="2385.65" cy="332.6" rx="6.6" ry="5.6"/><ellipse cx="2406.1" cy="336.5" rx="6.6" ry="5.6"/><ellipse cx="2426.55" cy="341" rx="6.6" ry="5.6"/><ellipse cx="2447" cy="344.6" rx="6.6" ry="5.6"/></g>
</g>
<path d="M1408.6,64.9H2489.5M1408.6,381.0H2489.5" stroke="#5a5a5a" stroke-width="2" fill="none"/>
<path d="M1408.6,63.9V382M2489.5,63.9V382" stroke="#2a2a2a" stroke-width="2" fill="none"/>
<line x1="1396.2" y1="76.6" x2="1408.6" y2="76.6" stroke="#333" stroke-width="1.6"/>
<line x1="1396.2" y1="149.7" x2="1408.6" y2="149.7" stroke="#333" stroke-width="1.6"/>
<line x1="1396.2" y1="222.8" x2="1408.6" y2="222.8" stroke="#333" stroke-width="1.6"/>
<line x1="1396.2" y1="295.9" x2="1408.6" y2="295.9" stroke="#333" stroke-width="1.6"/>
<line x1="1396.2" y1="369" x2="1408.6" y2="369" stroke="#333" stroke-width="1.6"/>
<line x1="2480.3" y1="222.8" x2="2489.5" y2="222.8" stroke="#333" stroke-width="1.7"/>
<line x1="1428.2" y1="381.0" x2="1428.2" y2="388.2" stroke="#333" stroke-width="1.6"/>
<line x1="1632.5" y1="381.0" x2="1632.5" y2="388.2" stroke="#333" stroke-width="1.6"/>
<line x1="1836.8" y1="381.0" x2="1836.8" y2="388.2" stroke="#333" stroke-width="1.6"/>
<line x1="2041.1" y1="381.0" x2="2041.1" y2="388.2" stroke="#333" stroke-width="1.6"/>
<line x1="2245.4" y1="381.0" x2="2245.4" y2="388.2" stroke="#333" stroke-width="1.6"/>
<line x1="2449.7" y1="381.0" x2="2449.7" y2="388.2" stroke="#333" stroke-width="1.6"/>
</g>
<g id="BL">
<line x1="163.2" y1="565" x2="163.2" y2="874" stroke="#eeeeee" stroke-width="1.5"/>
<line x1="163.5" y1="718.8" x2="1235" y2="718.8" stroke="#c6c6c6" stroke-width="5.6"/>
<g filter="url(#soft)">
<path d="M199.4,768.9C207.75,766.52 232.18,759.97 249.5,754.6C266.82,749.23 288.37,741.77 303.3,736.7C318.23,731.63 330.15,727.03 339.1,724.2C348.05,721.37 348.05,720.15 357,719.7C365.95,719.25 382.35,720.15 392.8,721.5C403.25,722.85 410.75,725.42 419.7,727.8C428.65,730.18 437.55,734.17 446.5,735.8C455.45,737.43 464.43,737.75 473.4,737.6C482.37,737.45 492.53,735.5 500.3,734.9C508.07,734.3 510.75,734.3 520,734C529.25,733.7 546.85,733.55 555.8,733.1C564.75,732.65 564.75,731.15 573.7,731.3C582.65,731.45 597.55,732.95 609.5,734C621.45,735.05 633.45,737 645.4,737.6C657.35,738.2 672.25,737.45 681.2,737.6C690.15,737.75 691.63,737.75 699.1,738.5C706.57,739.25 714.07,740.9 726,742.1C737.93,743.3 757.28,744.97 770.7,745.7C784.12,746.43 794.57,746.22 806.5,746.5C818.43,746.78 831.85,747.83 842.3,747.4C852.75,746.97 859.22,744.93 869.2,743.9C879.18,742.87 889.53,742.2 902.2,741.2C914.87,740.2 932.67,739.17 945.2,737.9C957.73,736.63 968.45,734.13 977.4,733.6C986.35,733.07 988.15,733.08 998.9,734.7C1009.65,736.32 1027.57,740.97 1041.9,743.3C1056.23,745.63 1072.37,747.27 1084.9,748.7C1097.43,750.13 1106.37,752.08 1117.1,751.9C1127.83,751.72 1135.7,749.57 1149.3,747.6C1162.9,745.63 1190.47,741.35 1198.7,740.1" fill="none" stroke="#1a1a1a" stroke-width="4.6" stroke-linejoin="round" stroke-linecap="round"/>
<path d="M199,735C203.33,735.22 217.83,736.02 225,736.3C232.17,736.58 233.5,736.42 242,736.7C250.5,736.98 264.67,738.95 276,738C287.33,737.05 298.33,733.6 310,731C321.67,728.4 334.33,725.4 346,722.4C357.67,719.4 369,715.4 380,713C391,710.6 401,710.02 412,708C423,705.98 434.67,702.68 446,700.9C457.33,699.12 468.67,697.9 480,697.3C491.33,696.7 502.55,697 514,697.3C525.45,697.6 537.27,697.75 548.7,699.1C560.13,700.45 571.27,703.02 582.6,705.4C593.93,707.78 605.47,711.3 616.7,713.4C627.93,715.5 639.68,718.9 650,718C660.32,717.1 668.77,711 678.6,708C688.43,705 698.3,702.67 709,700C719.7,697.33 731.47,693.8 742.8,692C754.13,690.2 765.67,689.37 777,689.2C788.33,689.03 799.47,689.8 810.8,691C822.13,692.2 832,694.67 845,696.4C858,698.13 875.9,699.67 888.8,701.4C901.7,703.13 911.13,706.62 922.4,706.8C933.67,706.98 945.1,704.65 956.4,702.5C967.7,700.35 978.9,696.42 990.2,693.9C1001.5,691.38 1012.9,688.83 1024.2,687.4C1035.5,685.97 1046.63,686.73 1058,685.3C1069.37,683.87 1082.57,681.58 1092.4,678.8C1102.23,676.02 1110.4,671.93 1117,668.6C1123.6,665.27 1126.03,663.2 1132,658.8C1137.97,654.4 1144.8,648.83 1152.8,642.2C1160.8,635.57 1172.13,625.53 1180,619C1187.87,612.47 1196.67,605.67 1200,603" fill="none" stroke="#d23a44" stroke-width="5" stroke-dasharray="17.5 16.5" stroke-linejoin="round"/>
<path d="M199.4,708C202.8,709.42 213,714.75 219.79,716.5C226.59,718.25 233.39,717.75 240.19,718.5C246.99,719.25 253.78,719.45 260.58,721C267.38,722.55 274.18,726.08 280.98,727.8C287.77,729.52 294.57,730.12 301.37,731.3C308.17,732.48 314.97,734 321.76,734.9C328.56,735.8 335.36,735.65 342.16,736.7C348.96,737.75 355.75,739.55 362.55,741.2C369.35,742.85 376.15,744.37 382.94,746.6C389.74,748.83 396.54,751.92 403.34,754.6C410.14,757.28 416.93,760.62 423.73,762.7C430.53,764.78 437.33,766.5 444.13,767.1C450.92,767.7 457.72,767.03 464.52,766.3C471.32,765.57 478.12,763.75 484.91,762.7C491.71,761.65 498.51,760.9 505.31,760C512.11,759.1 518.9,757.45 525.7,757.3C532.5,757.15 539.3,758.87 546.1,759.1C552.89,759.33 559.69,758.1 566.49,758.7C573.29,759.3 580.09,762.63 586.88,762.7C593.68,762.77 600.48,760.45 607.28,759.1C614.08,757.75 620.87,756.25 627.67,754.6C634.47,752.95 641.27,750.98 648.07,749.2C654.86,747.42 661.66,745.68 668.46,743.9C675.26,742.12 682.06,739.55 688.85,738.5C695.65,737.45 702.45,737.6 709.25,737.6C716.04,737.6 722.84,738.05 729.64,738.5C736.44,738.95 743.24,740.3 750.03,740.3C756.83,740.3 763.63,738.95 770.43,738.5C777.23,738.05 784.02,737.3 790.82,737.6C797.62,737.9 804.42,738.37 811.22,740.3C818.01,742.23 824.81,746.67 831.61,749.2C838.41,751.73 845.21,754.37 852,755.5C858.8,756.63 865.6,756.42 872.4,756C879.2,755.58 885.99,754.05 892.79,753C899.59,751.95 906.39,750.78 913.19,749.7C919.98,748.62 926.78,748.28 933.58,746.5C940.38,744.72 947.18,740.43 953.97,739C960.77,737.57 967.57,737.9 974.37,737.9C981.17,737.9 987.96,737.38 994.76,739C1001.56,740.62 1008.36,745.45 1015.16,747.6C1021.95,749.75 1028.75,750.65 1035.55,751.9C1042.35,753.15 1049.14,754.75 1055.94,755.1C1062.74,755.45 1069.54,754 1076.34,754C1083.13,754 1089.93,754.2 1096.73,755.1C1103.53,756 1110.33,757.25 1117.12,759.4C1123.92,761.55 1130.72,764.77 1137.52,768C1144.32,771.23 1151.11,775.4 1157.91,778.8C1164.71,782.2 1171.51,785 1178.31,788.4C1185.1,791.8 1195.3,797.4 1198.7,799.2" fill="none" stroke="#2ea62f" stroke-width="2.6" stroke-dasharray="2 4" opacity="0.8"/>
<g fill="#2ea62f"><ellipse cx="199.4" cy="708" rx="6.3" ry="5.6"/><ellipse cx="219.79" cy="716.5" rx="6.3" ry="5.6"/><ellipse cx="240.19" cy="718.5" rx="6.3" ry="5.6"/><ellipse cx="260.58" cy="721" rx="6.3" ry="5.6"/><ellipse cx="280.98" cy="727.8" rx="6.3" ry="5.6"/><ellipse cx="301.37" cy="731.3" rx="6.3" ry="5.6"/><ellipse cx="321.76" cy="734.9" rx="6.3" ry="5.6"/><ellipse cx="342.16" cy="736.7" rx="6.3" ry="5.6"/><ellipse cx="362.55" cy="741.2" rx="6.3" ry="5.6"/><ellipse cx="382.94" cy="746.6" rx="6.3" ry="5.6"/><ellipse cx="403.34" cy="754.6" rx="6.3" ry="5.6"/><ellipse cx="423.73" cy="762.7" rx="6.3" ry="5.6"/><ellipse cx="444.13" cy="767.1" rx="6.3" ry="5.6"/><ellipse cx="464.52" cy="766.3" rx="6.3" ry="5.6"/><ellipse cx="484.91" cy="762.7" rx="6.3" ry="5.6"/><ellipse cx="505.31" cy="760" rx="6.3" ry="5.6"/><ellipse cx="525.7" cy="757.3" rx="6.3" ry="5.6"/><ellipse cx="546.1" cy="759.1" rx="6.3" ry="5.6"/><ellipse cx="566.49" cy="758.7" rx="6.3" ry="5.6"/><ellipse cx="586.88" cy="762.7" rx="6.3" ry="5.6"/><ellipse cx="607.28" cy="759.1" rx="6.3" ry="5.6"/><ellipse cx="627.67" cy="754.6" rx="6.3" ry="5.6"/><ellipse cx="648.07" cy="749.2" rx="6.3" ry="5.6"/><ellipse cx="668.46" cy="743.9" rx="6.3" ry="5.6"/><ellipse cx="688.85" cy="738.5" rx="6.3" ry="5.6"/><ellipse cx="709.25" cy="737.6" rx="6.3" ry="5.6"/><ellipse cx="729.64" cy="738.5" rx="6.3" ry="5.6"/><ellipse cx="750.03" cy="740.3" rx="6.3" ry="5.6"/><ellipse cx="770.43" cy="738.5" rx="6.3" ry="5.6"/><ellipse cx="790.82" cy="737.6" rx="6.3" ry="5.6"/><ellipse cx="811.22" cy="740.3" rx="6.3" ry="5.6"/><ellipse cx="831.61" cy="749.2" rx="6.3" ry="5.6"/><ellipse cx="852" cy="755.5" rx="6.3" ry="5.6"/><ellipse cx="872.4" cy="756" rx="6.3" ry="5.6"/><ellipse cx="892.79" cy="753" rx="6.3" ry="5.6"/><ellipse cx="913.19" cy="749.7" rx="6.3" ry="5.6"/><ellipse cx="933.58" cy="746.5" rx="6.3" ry="5.6"/><ellipse cx="953.97" cy="739" rx="6.3" ry="5.6"/><ellipse cx="974.37" cy="737.9" rx="6.3" ry="5.6"/><ellipse cx="994.76" cy="739" rx="6.3" ry="5.6"/><ellipse cx="1015.16" cy="747.6" rx="6.3" ry="5.6"/><ellipse cx="1035.55" cy="751.9" rx="6.3" ry="5.6"/><ellipse cx="1055.94" cy="755.1" rx="6.3" ry="5.6"/><ellipse cx="1076.34" cy="754" rx="6.3" ry="5.6"/><ellipse cx="1096.73" cy="755.1" rx="6.3" ry="5.6"/><ellipse cx="1117.12" cy="759.4" rx="6.3" ry="5.6"/><ellipse cx="1137.52" cy="768" rx="6.3" ry="5.6"/><ellipse cx="1157.91" cy="778.8" rx="6.3" ry="5.6"/><ellipse cx="1178.31" cy="788.4" rx="6.3" ry="5.6"/><ellipse cx="1198.7" cy="799.2" rx="6.3" ry="5.6"/></g>
<path d="M199.4,718.3C202.8,718.3 213,718.3 219.79,718.3C226.59,718.3 233.39,718.3 240.19,718.3C246.99,718.3 253.78,718.3 260.58,718.3C267.38,718.3 274.18,718.3 280.98,718.3C287.77,718.3 294.57,718.3 301.37,718.3C308.17,718.3 314.97,718.3 321.76,718.3C328.56,718.3 335.36,718.3 342.16,718.3C348.96,718.3 355.75,718.3 362.55,718.3C369.35,718.3 376.15,718.3 382.94,718.3C389.74,718.3 396.54,718.3 403.34,718.3C410.14,718.3 416.93,718.3 423.73,718.3C430.53,718.3 437.33,718.3 444.13,718.3C450.92,718.3 457.72,718.3 464.52,718.3C471.32,718.3 478.12,718.3 484.91,718.3C491.71,718.3 498.51,718.3 505.31,718.3C512.11,718.3 518.9,718.3 525.7,718.3C532.5,718.3 539.3,718.3 546.1,718.3C552.89,718.3 559.69,718.3 566.49,718.3C573.29,718.3 580.09,718.3 586.88,718.3C593.68,718.3 600.48,718.3 607.28,718.3C614.08,718.3 620.87,718.3 627.67,718.3C634.47,718.3 641.27,718.3 648.07,718.3C654.86,718.3 661.66,718.3 668.46,718.3C675.26,718.3 682.06,718.3 688.85,718.3C695.65,718.3 702.45,718.3 709.25,718.3C716.04,718.3 722.84,718.3 729.64,718.3C736.44,718.3 743.24,718.3 750.03,718.3C756.83,718.3 763.63,718.3 770.43,718.3C777.23,718.3 784.02,718.3 790.82,718.3C797.62,718.3 804.42,718.3 811.22,718.3C818.01,718.3 824.81,718.3 831.61,718.3C838.41,718.3 845.21,718.3 852,718.3C858.8,718.3 865.6,718.3 872.4,718.3C879.2,718.3 885.99,718.3 892.79,718.3C899.59,718.3 906.39,718.3 913.19,718.3C919.98,718.3 926.78,718.3 933.58,718.3C940.38,718.3 947.18,718.3 953.97,718.3C960.77,718.3 967.57,718.3 974.37,718.3C981.17,718.3 987.96,718.3 994.76,718.3C1001.56,718.3 1008.36,718.3 1015.16,718.3C1021.95,718.3 1028.75,718.3 1035.55,718.3C1042.35,718.3 1049.14,718.3 1055.94,718.3C1062.74,718.3 1069.54,718.3 1076.34,718.3C1083.13,718.3 1089.93,718.3 1096.73,718.3C1103.53,718.3 1110.33,718.3 1117.12,718.3C1123.92,718.3 1130.72,718.3 1137.52,718.3C1144.32,718.3 1151.11,718.3 1157.91,718.3C1164.71,718.3 1171.51,718.3 1178.31,718.3C1185.1,718.3 1195.3,718.3 1198.7,718.3" fill="none" stroke="#2020cc" stroke-width="4.8"/>
<g fill="#000096"><ellipse cx="199.4" cy="718.3" rx="6.6" ry="5.6"/><ellipse cx="219.79" cy="718.3" rx="6.6" ry="5.6"/><ellipse cx="240.19" cy="718.3" rx="6.6" ry="5.6"/><ellipse cx="260.58" cy="718.3" rx="6.6" ry="5.6"/><ellipse cx="280.98" cy="718.3" rx="6.6" ry="5.6"/><ellipse cx="301.37" cy="718.3" rx="6.6" ry="5.6"/><ellipse cx="321.76" cy="718.3" rx="6.6" ry="5.6"/><ellipse cx="342.16" cy="718.3" rx="6.6" ry="5.6"/><ellipse cx="362.55" cy="718.3" rx="6.6" ry="5.6"/><ellipse cx="382.94" cy="718.3" rx="6.6" ry="5.6"/><ellipse cx="403.34" cy="718.3" rx="6.6" ry="5.6"/><ellipse cx="423.73" cy="718.3" rx="6.6" ry="5.6"/><ellipse cx="444.13" cy="718.3" rx="6.6" ry="5.6"/><ellipse cx="464.52" cy="718.3" rx="6.6" ry="5.6"/><ellipse cx="484.91" cy="718.3" rx="6.6" ry="5.6"/><ellipse cx="505.31" cy="718.3" rx="6.6" ry="5.6"/><ellipse cx="525.7" cy="718.3" rx="6.6" ry="5.6"/><ellipse cx="546.1" cy="718.3" rx="6.6" ry="5.6"/><ellipse cx="566.49" cy="718.3" rx="6.6" ry="5.6"/><ellipse cx="586.88" cy="718.3" rx="6.6" ry="5.6"/><ellipse cx="607.28" cy="718.3" rx="6.6" ry="5.6"/><ellipse cx="627.67" cy="718.3" rx="6.6" ry="5.6"/><ellipse cx="648.07" cy="718.3" rx="6.6" ry="5.6"/><ellipse cx="668.46" cy="718.3" rx="6.6" ry="5.6"/><ellipse cx="688.85" cy="718.3" rx="6.6" ry="5.6"/><ellipse cx="709.25" cy="718.3" rx="6.6" ry="5.6"/><ellipse cx="729.64" cy="718.3" rx="6.6" ry="5.6"/><ellipse cx="750.03" cy="718.3" rx="6.6" ry="5.6"/><ellipse cx="770.43" cy="718.3" rx="6.6" ry="5.6"/><ellipse cx="790.82" cy="718.3" rx="6.6" ry="5.6"/><ellipse cx="811.22" cy="718.3" rx="6.6" ry="5.6"/><ellipse cx="831.61" cy="718.3" rx="6.6" ry="5.6"/><ellipse cx="852" cy="718.3" rx="6.6" ry="5.6"/><ellipse cx="872.4" cy="718.3" rx="6.6" ry="5.6"/><ellipse cx="892.79" cy="718.3" rx="6.6" ry="5.6"/><ellipse cx="913.19" cy="718.3" rx="6.6" ry="5.6"/><ellipse cx="933.58" cy="718.3" rx="6.6" ry="5.6"/><ellipse cx="953.97" cy="718.3" rx="6.6" ry="5.6"/><ellipse cx="974.37" cy="718.3" rx="6.6" ry="5.6"/><ellipse cx="994.76" cy="718.3" rx="6.6" ry="5.6"/><ellipse cx="1015.16" cy="718.3" rx="6.6" ry="5.6"/><ellipse cx="1035.55" cy="718.3" rx="6.6" ry="5.6"/><ellipse cx="1055.94" cy="718.3" rx="6.6" ry="5.6"/><ellipse cx="1076.34" cy="718.3" rx="6.6" ry="5.6"/><ellipse cx="1096.73" cy="718.3" rx="6.6" ry="5.6"/><ellipse cx="1117.12" cy="718.3" rx="6.6" ry="5.6"/><ellipse cx="1137.52" cy="718.3" rx="6.6" ry="5.6"/><ellipse cx="1157.91" cy="718.3" rx="6.6" ry="5.6"/><ellipse cx="1178.31" cy="718.3" rx="6.6" ry="5.6"/><ellipse cx="1198.7" cy="718.3" rx="6.6" ry="5.6"/></g>
</g>
<path d="M159.9,561.0H1240.5M159.9,877.1H1240.5" stroke="#5a5a5a" stroke-width="2" fill="none"/>
<path d="M159.9,560V878.1M1240.5,560V878.1" stroke="#2a2a2a" stroke-width="2" fill="none"/>
<line x1="147.5" y1="572.9" x2="159.9" y2="572.9" stroke="#333" stroke-width="1.6"/>
<line x1="147.5" y1="645.98" x2="159.9" y2="645.98" stroke="#333" stroke-width="1.6"/>
<line x1="147.5" y1="719.05" x2="159.9" y2="719.05" stroke="#333" stroke-width="1.6"/>
<line x1="147.5" y1="792.12" x2="159.9" y2="792.12" stroke="#333" stroke-width="1.6"/>
<line x1="147.5" y1="865.2" x2="159.9" y2="865.2" stroke="#333" stroke-width="1.6"/>
<line x1="1231.3" y1="719.05" x2="1240.5" y2="719.05" stroke="#333" stroke-width="1.7"/>
<line x1="179.2" y1="877.1" x2="179.2" y2="884.3" stroke="#333" stroke-width="1.6"/>
<line x1="383.52" y1="877.1" x2="383.52" y2="884.3" stroke="#333" stroke-width="1.6"/>
<line x1="587.84" y1="877.1" x2="587.84" y2="884.3" stroke="#333" stroke-width="1.6"/>
<line x1="792.16" y1="877.1" x2="792.16" y2="884.3" stroke="#333" stroke-width="1.6"/>
<line x1="996.48" y1="877.1" x2="996.48" y2="884.3" stroke="#333" stroke-width="1.6"/>
<line x1="1200.8" y1="877.1" x2="1200.8" y2="884.3" stroke="#333" stroke-width="1.6"/>
</g>
<g id="BR">
<line x1="1413.5" y1="874" x2="2480" y2="874" stroke="#e6e6e6" stroke-width="2"/>
<line x1="1412" y1="715.2" x2="2480" y2="715.2" stroke="#c6c6c6" stroke-width="5.6"/>
<g filter="url(#soft)">
<path d="M1445,748.8C1448.7,747.43 1459.8,742.95 1467.2,740.6C1474.6,738.25 1482,736.55 1489.4,734.7C1496.8,732.85 1504.2,731.35 1511.6,729.5C1519,727.65 1526.4,725.08 1533.8,723.6C1541.2,722.12 1549.83,721.33 1556,720.6C1562.17,719.87 1565.87,718.95 1570.8,719.2C1575.73,719.45 1579.43,720.63 1585.6,722.1C1591.77,723.57 1600.4,725.9 1607.8,728C1615.2,730.1 1622.6,733.83 1630,734.7C1637.4,735.57 1644.8,734.18 1652.2,733.2C1659.6,732.22 1665.77,730.52 1674.4,728.8C1683.03,727.08 1694.13,725 1704,722.9C1713.87,720.8 1724.97,718.18 1733.6,716.2C1742.23,714.22 1748.93,711.87 1755.8,711C1762.67,710.13 1769.17,710.13 1774.8,711C1780.43,711.87 1783.43,714.47 1789.6,716.2C1795.77,717.93 1804.4,720.42 1811.8,721.4C1819.2,722.38 1827.33,721.73 1834,722.1C1840.67,722.47 1845.63,724.08 1851.8,723.6C1857.97,723.12 1864.1,720.93 1871,719.2C1877.9,717.47 1885.8,715.8 1893.2,713.2C1900.6,710.6 1908,705.93 1915.4,703.6C1922.8,701.27 1928.97,700.07 1937.6,699.2C1946.23,698.33 1957.33,698.03 1967.2,698.4C1977.07,698.77 1986.93,700.78 1996.8,701.4C2006.67,702.02 2017.77,702.35 2026.4,702.1C2035.03,701.85 2041.2,701.37 2048.6,699.9C2056,698.43 2062.17,695.27 2070.8,693.3C2079.43,691.33 2091.77,689.15 2100.4,688.1C2109.03,687.05 2113.52,685.55 2122.6,687C2131.68,688.45 2143.7,692.83 2154.9,696.8C2166.1,700.77 2178.55,707.32 2189.8,710.8C2201.05,714.28 2212.7,718.1 2222.4,717.7C2232.1,717.3 2239.85,711.88 2248,708.4C2256.15,704.92 2264.3,700.2 2271.3,696.8C2278.3,693.4 2283.9,690.52 2290,688C2296.1,685.48 2301.97,682.5 2307.9,681.7C2313.83,680.9 2320.35,680.9 2325.6,683.2C2330.85,685.5 2335.13,691.48 2339.4,695.5C2343.67,699.52 2347.92,703.03 2351.2,707.3C2354.48,711.57 2356.13,716.18 2359.1,721.1C2362.07,726.02 2365.07,730.23 2369,736.8C2372.93,743.37 2377.78,752.28 2382.7,760.5C2387.62,768.72 2393.23,777.57 2398.5,786.1C2403.77,794.63 2409.38,803.82 2414.3,811.7C2419.22,819.58 2424.07,826.67 2428,833.4C2431.93,840.13 2434.45,845.37 2437.9,852.1C2441.35,858.83 2446.9,870.18 2448.7,873.8" fill="none" stroke="#1a1a1a" stroke-width="4.6" stroke-linejoin="round" stroke-linecap="round"/>
<path d="M1445,688C1447.67,689.5 1454.33,693.83 1461,697C1467.67,700.17 1476.33,704.05 1485,707C1493.67,709.95 1505.67,712.43 1513,714.7C1520.33,716.97 1522.33,719.8 1529,720.6C1535.67,721.4 1544.33,721.72 1553,719.5C1561.67,717.28 1573.6,710.32 1581,707.3C1588.4,704.28 1590.9,704.28 1597.4,701.4C1603.9,698.52 1612.1,693.7 1620,690C1627.9,686.3 1637.97,682.48 1644.8,679.2C1651.63,675.92 1654.13,673 1661,670.3C1667.87,667.6 1676.25,664.85 1686,663C1695.75,661.15 1708,659.58 1719.5,659.2C1731,658.82 1743.62,660.08 1755,660.7C1766.38,661.32 1776.53,662.28 1787.8,662.9C1799.07,663.52 1811.22,665.38 1822.6,664.4C1833.98,663.42 1844.83,659.1 1856.1,657C1867.37,654.9 1878.88,652.05 1890.2,651.8C1901.52,651.55 1912.53,653.4 1924,655.5C1935.47,657.6 1947.5,661.43 1959,664.4C1970.5,667.37 1981.63,671.33 1993,673.3C2004.37,675.27 2015.83,675.58 2027.2,676.2C2038.57,676.82 2049.8,677.98 2061.2,677C2072.6,676.02 2084.3,672.38 2095.6,670.3C2106.9,668.22 2117.6,666.68 2129,664.5C2140.4,662.32 2152.5,659.68 2164,657.2C2175.5,654.72 2187.17,651.03 2198,649.6C2208.83,648.17 2217.67,648.88 2229,648.6C2240.33,648.32 2254,647.23 2266,647.9C2278,648.57 2289.17,650.25 2301,652.6C2312.83,654.95 2326.17,657.82 2337,662C2347.83,666.18 2356.17,671.97 2366,677.7C2375.83,683.43 2386,690.35 2396,696.4C2406,702.45 2419,709.57 2426,714C2433,718.43 2436,721.5 2438,723" fill="none" stroke="#d23a44" stroke-width="5" stroke-dasharray="17.5 16.5" stroke-linejoin="round"/>
<path d="M1444.3,725.8C1447.71,726.17 1457.96,727.5 1464.79,728C1471.61,728.5 1478.44,728.3 1485.27,728.8C1492.1,729.3 1498.93,730.38 1505.76,731C1512.59,731.62 1519.41,732.75 1526.24,732.5C1533.07,732.25 1539.9,731.85 1546.73,729.5C1553.56,727.15 1560.39,721.48 1567.21,718.4C1574.04,715.32 1580.87,713.47 1587.7,711C1594.53,708.53 1601.36,706.18 1608.19,703.6C1615.01,701.02 1621.84,697.43 1628.67,695.5C1635.5,693.57 1642.33,692.58 1649.16,692C1655.99,691.42 1662.81,691.3 1669.64,692C1676.47,692.7 1683.3,695.25 1690.13,696.2C1696.96,697.15 1703.79,697.33 1710.61,697.7C1717.44,698.07 1724.27,698.4 1731.1,698.4C1737.93,698.4 1744.76,698.18 1751.59,697.7C1758.41,697.22 1765.24,696.95 1772.07,695.5C1778.9,694.05 1785.73,690.85 1792.56,689C1799.39,687.15 1806.21,685.53 1813.04,684.4C1819.87,683.27 1826.7,682.57 1833.53,682.2C1840.36,681.83 1847.19,682.45 1854.01,682.2C1860.84,681.95 1867.67,680.7 1874.5,680.7C1881.33,680.7 1888.16,681.72 1894.99,682.2C1901.81,682.68 1908.64,683.12 1915.47,683.6C1922.3,684.08 1929.13,684.85 1935.96,685.1C1942.79,685.35 1949.61,684.97 1956.44,685.1C1963.27,685.23 1970.1,685.28 1976.93,685.9C1983.76,686.52 1990.59,688.32 1997.41,688.8C2004.24,689.28 2011.07,689.17 2017.9,688.8C2024.73,688.43 2031.56,687.7 2038.39,686.6C2045.21,685.5 2052.04,683.43 2058.87,682.2C2065.7,680.97 2072.53,679.45 2079.36,679.2C2086.19,678.95 2093.01,680.63 2099.84,680.7C2106.67,680.77 2113.5,679.25 2120.33,679.6C2127.16,679.95 2133.99,681.48 2140.81,682.8C2147.64,684.12 2154.47,685.37 2161.3,687.5C2168.13,689.63 2174.96,693.6 2181.79,695.6C2188.61,697.6 2195.44,698.35 2202.27,699.5C2209.1,700.65 2215.93,701.58 2222.76,702.5C2229.59,703.42 2236.41,704.17 2243.24,705C2250.07,705.83 2256.9,706.75 2263.73,707.5C2270.56,708.25 2277.39,708.83 2284.21,709.5C2291.04,710.17 2297.87,710.75 2304.7,711.5C2311.53,712.25 2318.36,712.97 2325.19,714C2332.01,715.03 2338.84,715.33 2345.67,717.7C2352.5,720.07 2359.33,724.5 2366.16,728.2C2372.99,731.9 2379.81,735.63 2386.64,739.9C2393.47,744.17 2400.3,749.15 2407.13,753.8C2413.96,758.45 2420.79,762.75 2427.61,767.8C2434.44,772.85 2444.69,781.38 2448.1,784.1" fill="none" stroke="#2ea62f" stroke-width="2.6" stroke-dasharray="2 4" opacity="0.8"/>
<g fill="#2ea62f"><ellipse cx="1444.3" cy="725.8" rx="6.3" ry="5.6"/><ellipse cx="1464.79" cy="728" rx="6.3" ry="5.6"/><ellipse cx="1485.27" cy="728.8" rx="6.3" ry="5.6"/><ellipse cx="1505.76" cy="731" rx="6.3" ry="5.6"/><ellipse cx="1526.24" cy="732.5" rx="6.3" ry="5.6"/><ellipse cx="1546.73" cy="729.5" rx="6.3" ry="5.6"/><ellipse cx="1567.21" cy="718.4" rx="6.3" ry="5.6"/><ellipse cx="1587.7" cy="711" rx="6.3" ry="5.6"/><ellipse cx="1608.19" cy="703.6" rx="6.3" ry="5.6"/><ellipse cx="1628.67" cy="695.5" rx="6.3" ry="5.6"/><ellipse cx="1649.16" cy="692" rx="6.3" ry="5.6"/><ellipse cx="1669.64" cy="692" rx="6.3" ry="5.6"/><ellipse cx="1690.13" cy="696.2" rx="6.3" ry="5.6"/><ellipse cx="1710.61" cy="697.7" rx="6.3" ry="5.6"/><ellipse cx="1731.1" cy="698.4" rx="6.3" ry="5.6"/><ellipse cx="1751.59" cy="697.7" rx="6.3" ry="5.6"/><ellipse cx="1772.07" cy="695.5" rx="6.3" ry="5.6"/><ellipse cx="1792.56" cy="689" rx="6.3" ry="5.6"/><ellipse cx="1813.04" cy="684.4" rx="6.3" ry="5.6"/><ellipse cx="1833.53" cy="682.2" rx="6.3" ry="5.6"/><ellipse cx="1854.01" cy="682.2" rx="6.3" ry="5.6"/><ellipse cx="1874.5" cy="680.7" rx="6.3" ry="5.6"/><ellipse cx="1894.99" cy="682.2" rx="6.3" ry="5.6"/><ellipse cx="1915.47" cy="683.6" rx="6.3" ry="5.6"/><ellipse cx="1935.96" cy="685.1" rx="6.3" ry="5.6"/><ellipse cx="1956.44" cy="685.1" rx="6.3" ry="5.6"/><ellipse cx="1976.93" cy="685.9" rx="6.3" ry="5.6"/><ellipse cx="1997.41" cy="688.8" rx="6.3" ry="5.6"/><ellipse cx="2017.9" cy="688.8" rx="6.3" ry="5.6"/><ellipse cx="2038.39" cy="686.6" rx="6.3" ry="5.6"/><ellipse cx="2058.87" cy="682.2" rx="6.3" ry="5.6"/><ellipse cx="2079.36" cy="679.2" rx="6.3" ry="5.6"/><ellipse cx="2099.84" cy="680.7" rx="6.3" ry="5.6"/><ellipse cx="2120.33" cy="679.6" rx="6.3" ry="5.6"/><ellipse cx="2140.81" cy="682.8" rx="6.3" ry="5.6"/><ellipse cx="2161.3" cy="687.5" rx="6.3" ry="5.6"/><ellipse cx="2181.79" cy="695.6" rx="6.3" ry="5.6"/><ellipse cx="2202.27" cy="699.5" rx="6.3" ry="5.6"/><ellipse cx="2222.76" cy="702.5" rx="6.3" ry="5.6"/><ellipse cx="2243.24" cy="705" rx="6.3" ry="5.6"/><ellipse cx="2263.73" cy="707.5" rx="6.3" ry="5.6"/><ellipse cx="2284.21" cy="709.5" rx="6.3" ry="5.6"/><ellipse cx="2304.7" cy="711.5" rx="6.3" ry="5.6"/><ellipse cx="2325.19" cy="714" rx="6.3" ry="5.6"/><ellipse cx="2345.67" cy="717.7" rx="6.3" ry="5.6"/><ellipse cx="2366.16" cy="728.2" rx="6.3" ry="5.6"/><ellipse cx="2386.64" cy="739.9" rx="6.3" ry="5.6"/><ellipse cx="2407.13" cy="753.8" rx="6.3" ry="5.6"/><ellipse cx="2427.61" cy="767.8" rx="6.3" ry="5.6"/><ellipse cx="2448.1" cy="784.1" rx="6.3" ry="5.6"/></g>
<path d="M1444.3,708.8C1447.71,708.07 1457.96,705.38 1464.79,704.4C1471.61,703.42 1478.44,703.28 1485.27,702.9C1492.1,702.52 1498.93,702.72 1505.76,702.1C1512.59,701.48 1519.41,700.05 1526.24,699.2C1533.07,698.35 1539.9,697.98 1546.73,697C1553.56,696.02 1560.39,694.35 1567.21,693.3C1574.04,692.25 1580.87,691.08 1587.7,690.7C1594.53,690.32 1601.36,691.57 1608.19,691C1615.01,690.43 1621.84,687.67 1628.67,687.3C1635.5,686.93 1642.33,688.8 1649.16,688.8C1655.99,688.8 1662.81,687.78 1669.64,687.3C1676.47,686.82 1683.3,686.63 1690.13,685.9C1696.96,685.17 1703.79,683.28 1710.61,682.9C1717.44,682.52 1724.27,683.23 1731.1,683.6C1737.93,683.97 1744.76,684.22 1751.59,685.1C1758.41,685.98 1765.24,688.03 1772.07,688.9C1778.9,689.77 1785.73,688.95 1792.56,690.3C1799.39,691.65 1806.21,695.65 1813.04,697C1819.87,698.35 1826.7,697.55 1833.53,698.4C1840.36,699.25 1847.19,701.48 1854.01,702.1C1860.84,702.72 1867.67,702.58 1874.5,702.1C1881.33,701.62 1888.16,699.93 1894.99,699.2C1901.81,698.47 1908.64,697.7 1915.47,697.7C1922.3,697.7 1929.13,698.7 1935.96,699.2C1942.79,699.7 1949.61,700.58 1956.44,700.7C1963.27,700.82 1970.1,699.67 1976.93,699.9C1983.76,700.13 1990.59,701.73 1997.41,702.1C2004.24,702.47 2011.07,702.83 2017.9,702.1C2024.73,701.37 2031.56,698.8 2038.39,697.7C2045.21,696.6 2052.04,695.25 2058.87,695.5C2065.7,695.75 2072.53,698.33 2079.36,699.2C2086.19,700.07 2093.01,700.27 2099.84,700.7C2106.67,701.13 2113.5,701.67 2120.33,701.8C2127.16,701.93 2133.99,701.37 2140.81,701.5C2147.64,701.63 2154.47,702.42 2161.3,702.6C2168.13,702.78 2174.96,702.78 2181.79,702.6C2188.61,702.42 2195.44,701.3 2202.27,701.5C2209.1,701.7 2215.93,703.03 2222.76,703.8C2229.59,704.57 2236.41,705.13 2243.24,706.1C2250.07,707.07 2256.9,708.63 2263.73,709.6C2270.56,710.57 2277.39,711.32 2284.21,711.9C2291.04,712.48 2297.87,712.9 2304.7,713.1C2311.53,713.3 2318.36,713.1 2325.19,713.1C2332.01,713.1 2338.84,713.1 2345.67,713.1C2352.5,713.1 2359.33,713.48 2366.16,713.1C2372.99,712.72 2379.81,711 2386.64,710.8C2393.47,710.6 2400.3,711.72 2407.13,711.9C2413.96,712.08 2420.79,711.9 2427.61,711.9C2434.44,711.9 2444.69,711.9 2448.1,711.9" fill="none" stroke="#2020cc" stroke-width="4.8"/>
<g fill="#000096"><ellipse cx="1444.3" cy="708.8" rx="6.6" ry="5.6"/><ellipse cx="1464.79" cy="704.4" rx="6.6" ry="5.6"/><ellipse cx="1485.27" cy="702.9" rx="6.6" ry="5.6"/><ellipse cx="1505.76" cy="702.1" rx="6.6" ry="5.6"/><ellipse cx="1526.24" cy="699.2" rx="6.6" ry="5.6"/><ellipse cx="1546.73" cy="697" rx="6.6" ry="5.6"/><ellipse cx="1567.21" cy="693.3" rx="6.6" ry="5.6"/><ellipse cx="1587.7" cy="690.7" rx="6.6" ry="5.6"/><ellipse cx="1608.19" cy="691" rx="6.6" ry="5.6"/><ellipse cx="1628.67" cy="687.3" rx="6.6" ry="5.6"/><ellipse cx="1649.16" cy="688.8" rx="6.6" ry="5.6"/><ellipse cx="1669.64" cy="687.3" rx="6.6" ry="5.6"/><ellipse cx="1690.13" cy="685.9" rx="6.6" ry="5.6"/><ellipse cx="1710.61" cy="682.9" rx="6.6" ry="5.6"/><ellipse cx="1731.1" cy="683.6" rx="6.6" ry="5.6"/><ellipse cx="1751.59" cy="685.1" rx="6.6" ry="5.6"/><ellipse cx="1772.07" cy="688.9" rx="6.6" ry="5.6"/><ellipse cx="1792.56" cy="690.3" rx="6.6" ry="5.6"/><ellipse cx="1813.04" cy="697" rx="6.6" ry="5.6"/><ellipse cx="1833.53" cy="698.4" rx="6.6" ry="5.6"/><ellipse cx="1854.01" cy="702.1" rx="6.6" ry="5.6"/><ellipse cx="1874.5" cy="702.1" rx="6.6" ry="5.6"/><ellipse cx="1894.99" cy="699.2" rx="6.6" ry="5.6"/><ellipse cx="1915.47" cy="697.7" rx="6.6" ry="5.6"/><ellipse cx="1935.96" cy="699.2" rx="6.6" ry="5.6"/><ellipse cx="1956.44" cy="700.7" rx="6.6" ry="5.6"/><ellipse cx="1976.93" cy="699.9" rx="6.6" ry="5.6"/><ellipse cx="1997.41" cy="702.1" rx="6.6" ry="5.6"/><ellipse cx="2017.9" cy="702.1" rx="6.6" ry="5.6"/><ellipse cx="2038.39" cy="697.7" rx="6.6" ry="5.6"/><ellipse cx="2058.87" cy="695.5" rx="6.6" ry="5.6"/><ellipse cx="2079.36" cy="699.2" rx="6.6" ry="5.6"/><ellipse cx="2099.84" cy="700.7" rx="6.6" ry="5.6"/><ellipse cx="2120.33" cy="701.8" rx="6.6" ry="5.6"/><ellipse cx="2140.81" cy="701.5" rx="6.6" ry="5.6"/><ellipse cx="2161.3" cy="702.6" rx="6.6" ry="5.6"/><ellipse cx="2181.79" cy="702.6" rx="6.6" ry="5.6"/><ellipse cx="2202.27" cy="701.5" rx="6.6" ry="5.6"/><ellipse cx="2222.76" cy="703.8" rx="6.6" ry="5.6"/><ellipse cx="2243.24" cy="706.1" rx="6.6" ry="5.6"/><ellipse cx="2263.73" cy="709.6" rx="6.6" ry="5.6"/><ellipse cx="2284.21" cy="711.9" rx="6.6" ry="5.6"/><ellipse cx="2304.7" cy="713.1" rx="6.6" ry="5.6"/><ellipse cx="2325.19" cy="713.1" rx="6.6" ry="5.6"/><ellipse cx="2345.67" cy="713.1" rx="6.6" ry="5.6"/><ellipse cx="2366.16" cy="713.1" rx="6.6" ry="5.6"/><ellipse cx="2386.64" cy="710.8" rx="6.6" ry="5.6"/><ellipse cx="2407.13" cy="711.9" rx="6.6" ry="5.6"/><ellipse cx="2427.61" cy="711.9" rx="6.6" ry="5.6"/><ellipse cx="2448.1" cy="711.9" rx="6.6" ry="5.6"/></g>
</g>
<path d="M1408.6,561.2H2489.4M1408.6,876.9H2489.4" stroke="#5a5a5a" stroke-width="2" fill="none"/>
<path d="M1408.6,560.2V877.9M2489.4,560.2V877.9" stroke="#2a2a2a" stroke-width="2" fill="none"/>
<line x1="1396.2" y1="573.1" x2="1408.6" y2="573.1" stroke="#333" stroke-width="1.6"/>
<line x1="1396.2" y1="646.15" x2="1408.6" y2="646.15" stroke="#333" stroke-width="1.6"/>
<line x1="1396.2" y1="719.2" x2="1408.6" y2="719.2" stroke="#333" stroke-width="1.6"/>
<line x1="1396.2" y1="792.25" x2="1408.6" y2="792.25" stroke="#333" stroke-width="1.6"/>
<line x1="1396.2" y1="865.3" x2="1408.6" y2="865.3" stroke="#333" stroke-width="1.6"/>
<line x1="2480.2" y1="719.2" x2="2489.4" y2="719.2" stroke="#333" stroke-width="1.7"/>
<line x1="1428.3" y1="876.9" x2="1428.3" y2="884.1" stroke="#333" stroke-width="1.6"/>
<line x1="1632.56" y1="876.9" x2="1632.56" y2="884.1" stroke="#333" stroke-width="1.6"/>
<line x1="1836.82" y1="876.9" x2="1836.82" y2="884.1" stroke="#333" stroke-width="1.6"/>
<line x1="2041.08" y1="876.9" x2="2041.08" y2="884.1" stroke="#333" stroke-width="1.6"/>
<line x1="2245.34" y1="876.9" x2="2245.34" y2="884.1" stroke="#333" stroke-width="1.6"/>
<line x1="2449.6" y1="876.9" x2="2449.6" y2="884.1" stroke="#333" stroke-width="1.6"/>
</g>
<g font-family="'Liberation Sans', Arial, Helvetica, sans-serif" font-size="100" style="font-kerning:none">
<text transform="matrix(0.46,0,0,0.5,601.79,47)" font-weight="bold" fill="#000">B after BB</text>
<text transform="matrix(0.47,0,0,0.5,1872.86,47)" font-weight="bold" fill="#000">B after BA</text>
<text transform="matrix(0.48,0,0,0.5,554.31,535.9)" font-weight="bold" fill="#000">A after AB</text>
<text transform="matrix(0.48,0,0,0.5,1836.7,545.9)" font-weight="bold" fill="#000">A after AA</text>
<text transform="matrix(0.47,0,0,0.51,614.47,457.5)" font-weight="bold" fill="#000">Round</text>
<text transform="matrix(0.47,0,0,0.5,1873.07,467.9)" font-weight="bold" fill="#000">Round</text>
<text transform="matrix(0.47,0,0,0.5,661.68,960)" font-weight="bold" fill="#000">Round</text>
<text transform="matrix(0.47,0,0,0.5,1873.07,960)" font-weight="bold" fill="#000">Round</text>
<text transform="matrix(0,-0.36,0.37,0,37.4,385.2)" font-weight="bold">Repetition Propensity</text>
<text transform="matrix(0,-0.36,0.37,0,86.3,282.4)" font-weight="bold">Difference</text>
<text transform="matrix(0,-0.36,0.38,0,1292.4,424.2)" font-weight="bold">Repetition Propensity</text>
<text transform="matrix(0,-0.36,0.38,0,1340.9,321.19)" font-weight="bold">Difference</text>
<text transform="matrix(0,-0.36,0.37,0,42.2,908.1)" font-weight="bold">Repetition Propensity</text>
<text transform="matrix(0,-0.36,0.39,0,91.5,805.8)" font-weight="bold">Difference</text>
<text transform="matrix(0,-0.36,0.38,0,1286.7,906.1)" font-weight="bold">Repetition Propensity</text>
<text transform="matrix(0,-0.36,0.37,0,1335.7,803.89)" font-weight="bold">Difference</text>
<text transform="matrix(0,-0.24,0.42,0,129.99,93.8)">1.0</text>
<text transform="matrix(0,-0.24,0.42,0,129.99,166.46)">0.5</text>
<text transform="matrix(0,-0.24,0.42,0,129.99,239.65)">0.0</text>
<text transform="matrix(0,-0.24,0.42,0,129.99,319.96)">−0.5</text>
<text transform="matrix(0,-0.24,0.42,0,129.99,393.15)">−1.0</text>
<text transform="matrix(0.41,0,0,0.25,167.73,408.06)" font-weight="normal">0</text>
<text transform="matrix(0.41,0,0,0.25,359.8,408.06)" font-weight="normal">10</text>
<text transform="matrix(0.41,0,0,0.25,564.64,408.06)" font-weight="normal">20</text>
<text transform="matrix(0.41,0,0,0.25,769.19,408.06)" font-weight="normal">30</text>
<text transform="matrix(0.41,0,0,0.25,973.8,408.06)" font-weight="normal">40</text>
<text transform="matrix(0.41,0,0,0.25,1177.75,408.06)" font-weight="normal">50</text>
<text transform="matrix(0,-0.24,0.42,0,1379.09,93.9)">1.0</text>
<text transform="matrix(0,-0.24,0.42,0,1379.09,166.51)">0.5</text>
<text transform="matrix(0,-0.24,0.42,0,1379.09,239.65)">0.0</text>
<text transform="matrix(0,-0.24,0.42,0,1379.09,319.91)">−0.5</text>
<text transform="matrix(0,-0.24,0.42,0,1379.09,393.05)">−1.0</text>
<text transform="matrix(0.41,0,0,0.25,1416.73,407.75)" font-weight="normal">0</text>
<text transform="matrix(0.41,0,0,0.25,1608.8,407.75)" font-weight="normal">10</text>
<text transform="matrix(0.41,0,0,0.25,1813.64,407.75)" font-weight="normal">20</text>
<text transform="matrix(0.41,0,0,0.25,2018.19,407.75)" font-weight="normal">30</text>
<text transform="matrix(0.41,0,0,0.25,2222.8,407.75)" font-weight="normal">40</text>
<text transform="matrix(0.41,0,0,0.25,2426.75,407.75)" font-weight="normal">50</text>
<text transform="matrix(0,-0.24,0.42,0,129.99,590.2)">1.0</text>
<text transform="matrix(0,-0.24,0.42,0,129.99,662.79)">0.5</text>
<text transform="matrix(0,-0.24,0.42,0,129.99,735.9)">0.0</text>
<text transform="matrix(0,-0.24,0.42,0,129.99,816.14)">−0.5</text>
<text transform="matrix(0,-0.24,0.42,0,129.99,889.25)">−1.0</text>
<text transform="matrix(0.41,0,0,0.25,167.73,904.06)" font-weight="normal">0</text>
<text transform="matrix(0.41,0,0,0.25,359.82,904.06)" font-weight="normal">10</text>
<text transform="matrix(0.41,0,0,0.25,564.68,904.06)" font-weight="normal">20</text>
<text transform="matrix(0.41,0,0,0.25,769.25,904.06)" font-weight="normal">30</text>
<text transform="matrix(0.41,0,0,0.25,973.88,904.06)" font-weight="normal">40</text>
<text transform="matrix(0.41,0,0,0.25,1177.85,904.06)" font-weight="normal">50</text>
<text transform="matrix(0,-0.24,0.42,0,1378.89,590.4)">1.0</text>
<text transform="matrix(0,-0.24,0.42,0,1378.89,662.96)">0.5</text>
<text transform="matrix(0,-0.24,0.42,0,1378.89,736.05)">0.0</text>
<text transform="matrix(0,-0.24,0.42,0,1378.89,816.26)">−0.5</text>
<text transform="matrix(0,-0.24,0.42,0,1378.89,889.35)">−1.0</text>
<text transform="matrix(0.41,0,0,0.25,1416.83,904.06)" font-weight="normal">0</text>
<text transform="matrix(0.41,0,0,0.25,1608.86,904.06)" font-weight="normal">10</text>
<text transform="matrix(0.41,0,0,0.25,1813.66,904.06)" font-weight="normal">20</text>
<text transform="matrix(0.41,0,0,0.25,2018.17,904.06)" font-weight="normal">30</text>
<text transform="matrix(0.41,0,0,0.25,2222.74,904.06)" font-weight="normal">40</text>
<text transform="matrix(0.41,0,0,0.25,2426.65,904.06)" font-weight="normal">50</text>
</g>
<rect x="735" y="980.7" width="1212.8" height="126.8" fill="none" stroke="#111" stroke-width="2"/>
<line x1="789" y1="1072.4" x2="860.5" y2="1072.4" stroke="#000" stroke-width="5" stroke-linecap="round"/>
<line x1="1064.5" y1="1072.4" x2="1081" y2="1072.4" stroke="#f00" stroke-width="5" stroke-linecap="round"/>
<line x1="1108" y1="1072.4" x2="1124.5" y2="1072.4" stroke="#f00" stroke-width="5" stroke-linecap="round"/>
<line x1="1355.5" y1="1072" x2="1426" y2="1072" stroke="#14c814" stroke-width="5" stroke-linecap="round"/>
<ellipse cx="1390.5" cy="1072" rx="7.2" ry="7.2" fill="#14c814"/>
<line x1="1669.5" y1="1071.5" x2="1740.5" y2="1071.5" stroke="#0000f0" stroke-width="5" stroke-linecap="round"/>
<ellipse cx="1705" cy="1071.5" rx="7.2" ry="7.2" fill="#0000f0"/>
<circle cx="1659" cy="1059.5" r="1.6" fill="#222"/>
<g font-family="'Liberation Sans', Arial, Helvetica, sans-serif" font-size="100" style="font-kerning:none">
<text transform="matrix(0.48,0,0,0.49,1230.94,1023.3)" font-weight="normal" fill="#000">CG Conditions</text>
<text transform="matrix(0.4,0,0,0.44,886.25,1083.6)" font-weight="bold" fill="#000">T4T HT</text>
<text transform="matrix(0.38,0,0,0.44,1176.67,1083.6)" font-weight="bold" fill="#000">T4T LT</text>
<text transform="matrix(0.4,0,0,0.44,1455.82,1083.4)" font-weight="bold" fill="#000">PT4T HT</text>
<text transform="matrix(0.38,0,0,0.44,1770.28,1083.4)" font-weight="bold" fill="#000">PT4T LT</text>
</g>
</svg>
</body></html>
